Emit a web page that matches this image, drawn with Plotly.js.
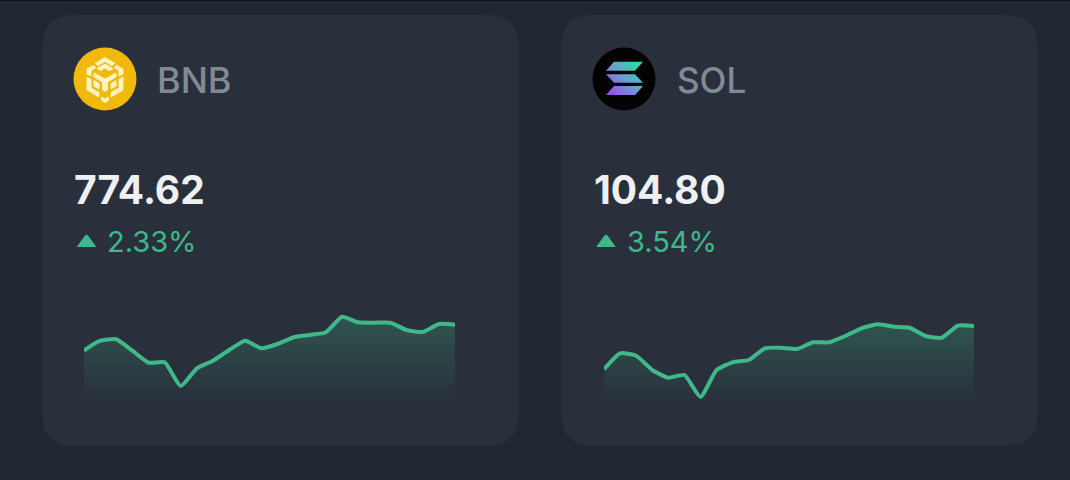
<!DOCTYPE html>
<html><head><meta charset="utf-8">
<script src="https://cdn.plot.ly/plotly-3.0.1.min.js"></script>
<style>html,body{margin:0;padding:0;background:#1f2731;overflow:hidden}#c{width:1070px;height:480px}</style>
</head><body><div id="c"></div>
<script>
// Data (relative price level on a 0-100 sparkline scale)
const symbols = ["BNB", "SOL"];
const prices = ["774.62", "104.80"];
const changes = ["2.33%", "3.54%"];
const bnbLevels = [49.5,59.3,60.7,49.3,37.3,37.7,14,31.7,39.3,50,59.3,51.7,56,62.7,65,67.7,83.3,77.7,77.3,77.3,70,68,76,75.3];
const solLevels = [30.7,46.7,44.3,30,22.3,25,3,30,37.7,40,51.7,52.3,51,57.7,57.7,64,71.7,75.7,73.3,72.3,64,62.3,74.3,74];
const steps = bnbLevels.map((_, i) => i);

const W = 1070, H = 480;
const px = x => x / W, py = y => 1 - y / H;
const GREEN = "#3fb98a";

function roundRect(x0, y0, x1, y1, r) {
  const a = (x, y) => px(x) + "," + py(y);
  return "M" + a(x0 + r, y0) + " L" + a(x1 - r, y0) + " Q" + a(x1, y0) + " " + a(x1, y0 + r) +
    " L" + a(x1, y1 - r) + " Q" + a(x1, y1) + " " + a(x1 - r, y1) +
    " L" + a(x0 + r, y1) + " Q" + a(x0, y1) + " " + a(x0, y1 - r) +
    " L" + a(x0, y0 + r) + " Q" + a(x0, y0) + " " + a(x0 + r, y0) + " Z";
}
function tri(cx) {
  const a = (x, y) => px(x) + "," + py(y);
  return "M" + a(cx - 9, 246.5) + " L" + a(cx + 9, 246.5) + " L" + a(cx + 1, 235.5) + " Q" + a(cx, 234.5) + " " + a(cx - 1, 235.5) + " Z";
}
const cardShape = (x0, x1) => ({type: "path", xref: "paper", yref: "paper", layer: "below",
  path: roundRect(x0, 15, x1, 445.5, 32), fillcolor: "#29303b", line: {width: 0}});
const triShape = cx => ({type: "path", xref: "paper", yref: "paper", path: tri(cx), fillcolor: GREEN, line: {color: GREEN, width: 1}});

const fillGrad = {type: "vertical", colorscale: [[0, "rgba(63,185,138,0)"], [1, "rgba(63,185,138,0.27)"]]};
const line = (y, xa, ya) => ({x: steps, y, xaxis: xa, yaxis: ya, type: "scatter", mode: "lines",
  line: {color: GREEN, width: 4, shape: "spline", smoothing: 0.5}, fill: "tozeroy", fillgradient: fillGrad, fillcolor: "rgba(63,185,138,0.15)", hoverinfo: "skip"});

const hiddenX = (a, b) => ({domain: [px(a), px(b)], range: [0, 23], visible: false, fixedrange: true});
const hiddenY = (anchor) => ({domain: [py(400), py(300)], range: [0, 100], visible: false, anchor, fixedrange: true});

const txt = (text, x, y, size, color, weight) => ({text, x: px(x), y: py(y), xref: "paper", yref: "paper",
  xanchor: "left", yanchor: "middle", showarrow: false, font: {size, color, weight, family: "Inter, sans-serif"}});

const bnbIcon = `<svg xmlns="http://www.w3.org/2000/svg" viewBox="0 0 64 64"><circle cx="32" cy="32" r="31.5" fill="#f0b90b"/>
<g fill="#fff2c4" stroke="#fff2c4" stroke-width="0.9" stroke-linejoin="round"><path d="M32 10.500L42 16.500 38.800 18.500 32 14.500 25.200 18.500 22 16.500z"/><path d="M32 17L40 21.500 36.500 23.700 32 21 27.500 23.700 24 21.500z"/>
<path d="M21 26L32 32 43 26V30L34.500 35V43L32 44.500 29.500 43V35L21 30z"/>
<path d="M14 22L20 18.500 23 20.500 18 23.500V29L14 27z"/><path d="M50 22L44 18.500 41 20.500 46 23.500V29L50 27z"/>
<path d="M14 30L18 32.500V41L26 45.500V50L14 43z"/><path d="M50 30L46 32.500V41L38 45.500V50L50 43z"/>
<path d="M21 33.500L26 36.500V42L21 39z"/><path d="M43 33.500L38 36.500V42L43 39z"/>
<path d="M28.500 50L32 52 35.500 50V53.500L32 55.500 28.500 53.500z"/></g></svg>`;
const solIcon = `<svg xmlns="http://www.w3.org/2000/svg" viewBox="0 0 64 64"><defs><linearGradient id="g" gradientUnits="userSpaceOnUse" x1="50" y1="12" x2="16" y2="50"><stop offset="0" stop-color="#14f195"/><stop offset="0.5" stop-color="#6a9fd0"/><stop offset="1" stop-color="#a040f0"/></linearGradient></defs>
<circle cx="32" cy="32" r="31.500" fill="#030303"/><g fill="url(#g)"><path d="M22 14.700H51L43 23.700H14z"/><path d="M14 27.300H43L51 35.700H22z"/><path d="M22 39H51L43 48H14z"/></g></svg>`;
const uri = s => "data:image/svg+xml;charset=utf-8," + encodeURIComponent(s);
const icon = (s, x) => ({source: uri(s), xref: "paper", yref: "paper", x: px(x), y: py(47), sizex: 64 / W, sizey: 64 / H, sizing: "stretch", xanchor: "left", yanchor: "top", layer: "above"});

const layout = {
  width: W, height: H, margin: {l: 0, r: 0, t: 0, b: 0},
  paper_bgcolor: "#1f2731", plot_bgcolor: "rgba(0,0,0,0)", showlegend: false,
  xaxis: hiddenX(84, 455), yaxis: hiddenY("x"),
  xaxis2: hiddenX(604, 974), yaxis2: hiddenY("x2"),
  shapes: [cardShape(42, 519), cardShape(561, 1038), triShape(86.5), triShape(606),
    {type: "line", xref: "paper", yref: "paper", x0: 0, x1: 1, y0: py(0.5), y1: py(0.5), line: {color: "#10151b", width: 1}}],
  images: [icon(bnbIcon, 73), icon(solIcon, 592)],
  annotations: [
    txt(symbols[0], 155, 80, 36, "#818b98", 500), txt(symbols[1], 675, 80, 35, "#818b98", 500),
    txt(prices[0], 72, 190, 39, "#eef0f4", 700), txt(prices[1], 592, 190, 39, "#eef0f4", 700),
    txt(changes[0], 105, 241, 29, GREEN, 400), txt(changes[1], 625, 241, 29, GREEN, 400)
  ]
};
Plotly.newPlot("c", [line(bnbLevels, "x", "y"), line(solLevels, "x2", "y2")], layout, {staticPlot: true, displayModeBar: false});
</script></body></html>
